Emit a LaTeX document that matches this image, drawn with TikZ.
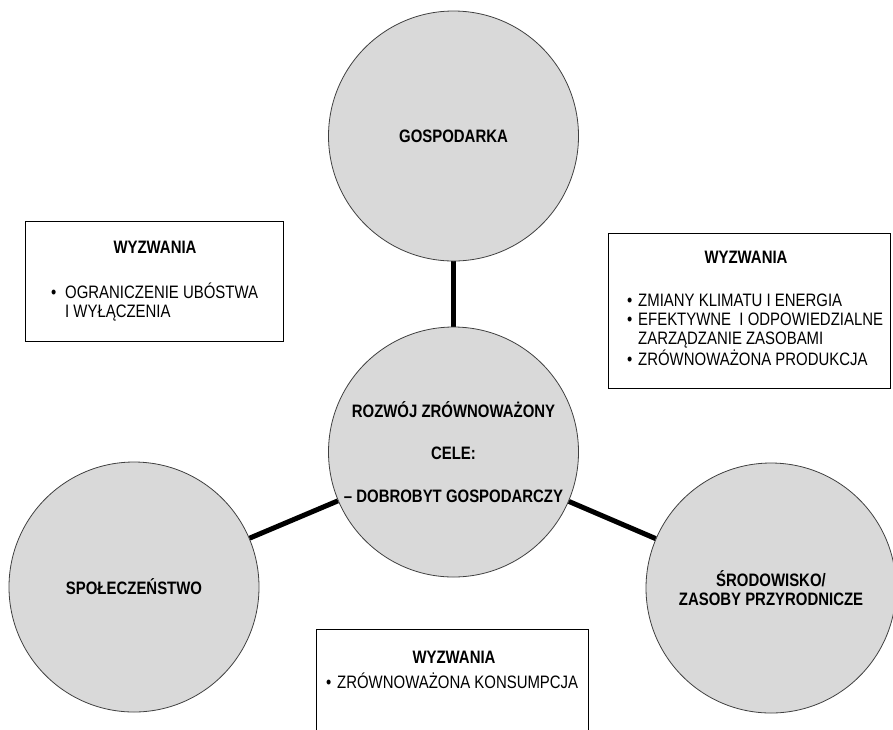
\documentclass[tikz,border=0pt]{standalone}
\usepackage{fontspec}
\setmainfont{Liberation Sans}[FakeStretch=0.83]
\usepackage{tikz}
\pgfdeclarelayer{bg}
\pgfsetlayers{bg,main}
\definecolor{kolo}{RGB}{217,217,217}
\definecolor{obrys}{RGB}{64,64,64}
\newcommand{\punkt}[1]{\makebox[#1][l]{•}}
\tikzset{
  sfera/.style={circle, draw=obrys, line width=0.8pt, fill=kolo, minimum size=250pt,
    inner sep=0pt, align=center, font=\fontsize{18}{19}\selectfont\bfseries},
  ramka/.style={draw, line width=0.8pt, rectangle, inner sep=0pt},
  tytul/.style={anchor=base, font=\fontsize{18}{19}\selectfont\bfseries},
  lista/.style={anchor=base west, align=left, inner sep=0pt, font=\fontsize{18}{19}\selectfont},
  wiez/.style={line width=5pt}
}

\begin{document}
\begin{tikzpicture}
        \useasboundingbox (0pt,0pt) rectangle (893pt,-729pt);
        \node (c0) [sfera] at (453.5pt, -136pt) {GOSPODARKA};
        \node (c1) [sfera] at (453.5pt, -452pt) {ROZWÓJ ZRÓWNOWAŻONY\\[23.5pt]CELE:\\[23.5pt]– DOBROBYT GOSPODARCZY};
        \node (c2) [sfera] at (134pt, -587pt) {SPOŁECZEŃSTWO};
        \node (c3) [sfera] at (771pt, -588pt) {ŚRODOWISKO/\\ZASOBY PRZYRODNICZE};
        \node (w0) [ramka, minimum width=258pt, minimum height=120pt] at (154pt, -281pt) {};
        \node (w1) [ramka, minimum width=282pt, minimum height=155pt] at (749pt, -310.5pt) {};
        \node (w2) [ramka, minimum width=272pt, minimum height=120pt] at (452pt, -689pt) {};
        \node (t0) [tytul] at (155pt, -253pt) {WYZWANIA};
        \node (l0) [lista] at (51pt, -317pt) {\punkt{14pt}OGRANICZENIE UBÓSTWA\\\hspace*{14pt}I WYŁĄCZENIA};
        \node (t1) [tytul] at (746pt, -263pt) {WYZWANIA};
        \node (l1) [lista] at (627pt, -365pt) {\punkt{11pt}ZMIANY KLIMATU I ENERGIA\\\punkt{11pt}EFEKTYWNE~ I ODPOWIEDZIALNE\\\hspace*{11pt}ZARZĄDZANIE ZASOBAMI\\\punkt{11pt}ZRÓWNOWAŻONA PRODUKCJA};
        \node (t2) [tytul] at (454pt, -663pt) {WYZWANIA};
        \node (l2) [lista] at (326pt, -688pt) {\punkt{11pt}ZRÓWNOWAŻONA KONSUMPCJA};
        \begin{pgfonlayer}{bg}
                \draw (c0) edge [wiez] (c1);
                \draw (c1) edge [wiez] (c2);
                \draw (c1) edge [wiez] (c3);
        \end{pgfonlayer}
\end{tikzpicture}
\end{document}
